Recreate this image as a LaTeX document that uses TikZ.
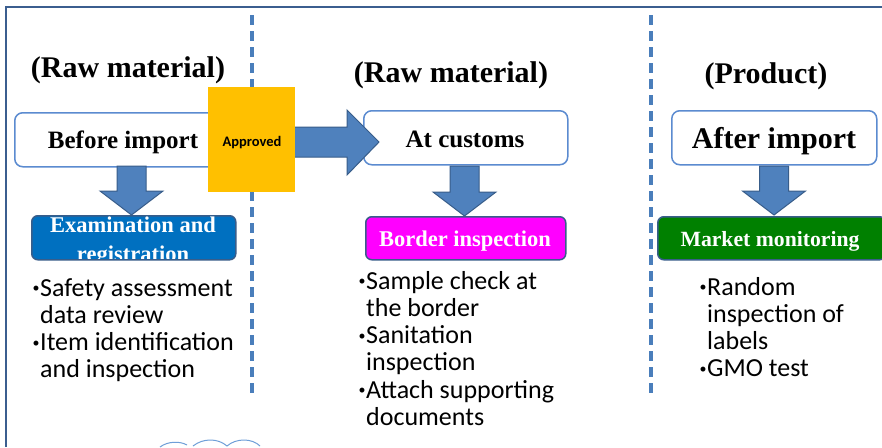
\documentclass[tikz,border=0pt]{standalone}
\usepackage{fontspec}
\setmainfont{Liberation Serif}
\newfontfamily\listfont{Carlito}
\definecolor{arrowfill}{HTML}{4F81BD}
\definecolor{arrowline}{HTML}{385D8A}
\definecolor{dashcol}{HTML}{4A7EBB}
\definecolor{framecol}{HTML}{3B5E8F}
\definecolor{boxline}{HTML}{5B8BD0}
\definecolor{approvedcol}{HTML}{FFC000}
\definecolor{examcol}{HTML}{0070C0}
\definecolor{bordercol}{HTML}{FF00FF}
\definecolor{marketcol}{HTML}{008000}
\definecolor{cloudcol}{HTML}{6F9FD8}
\newcommand{\blockdown}[4]{% name, cx, top, tip
  \coordinate (#1top) at (#2,#3);
  \coordinate (#1tip) at (#2,#4);
  \draw[blockarrow] ($(#1top)+(-14.5,0)$) -- ($(#1top)+(14.5,0)$) -- ($(#1tip)+(14.5,-24)$)
    -- ($(#1tip)+(31.5,-24)$) -- (#1tip) -- ($(#1tip)+(-31.5,-24)$) -- ($(#1tip)+(-14.5,-24)$) -- cycle;}
\newcommand{\itembullet}{\llap{\raisebox{3.5pt}{\fontsize{14}{14}\selectfont •}\hspace{0.5pt}}}
\usetikzlibrary{calc}
\begin{document}
\begin{tikzpicture}[x=1pt,y=-1pt,
  stagebox/.style={draw=boxline, line width=1.5pt, fill=white, rounded corners=8pt, anchor=north west, inner sep=0},
  tagbox/.style={draw=arrowline, line width=1.5pt, rounded corners=6pt, anchor=north west, inner sep=0},
  blockarrow/.style={fill=arrowfill, draw=arrowline, line width=1pt, line join=miter},
  divider/.style={draw=dashcol, line width=4pt, dash pattern=on 10pt off 6pt},
  heading/.style={font=\bfseries\fontsize{30}{32}\selectfont, anchor=base, inner sep=0},
  stagetext/.style={font=\bfseries\fontsize{25}{28}\selectfont, anchor=base, inner sep=0},
  tagtext/.style={font=\bfseries\fontsize{22.5}{29}\selectfont, text=white, anchor=base, inner sep=0},
  listtext/.style={font=\listfont\fontsize{26}{27.3}\selectfont, anchor=base west, inner sep=0}]
\useasboundingbox (0,0) rectangle (882,447);
\fill[white] (0,0) rectangle (882,447);
% frame
\draw[framecol, line width=2pt] (6,447) -- (6,7) -- (882,7);
% dividers
\coordinate (d1top) at (252,15); \coordinate (d1bot) at (252,398);
\coordinate (d2top) at (651,15); \coordinate (d2bot) at (651,398);
\draw[divider] (d1top) -- (d1bot);
\draw[divider] (d2top) -- (d2bot);
% headings
\node[heading] (h1) at (128,77) {(Raw material)};
\node[heading] (h2) at (451,82) {(Raw material)};
\node[heading] (h3) at (766,83) {(Product)};
% stage boxes
\node[stagebox, minimum width=226pt, minimum height=54pt] (before) at (14,112) {};
\node[stagebox, minimum width=204pt, minimum height=54pt] (customs) at (363,110) {};
\node[stagebox, minimum width=205pt, minimum height=54pt] (after) at (671,110) {};
% big right arrow
\coordinate (rstart) at (282,142);
\coordinate (rtip) at (379,142);
\draw[blockarrow] ($(rstart)+(0,-15)$) -- ($(rtip)+(-32,-15)$) -- ($(rtip)+(-32,-32)$) -- (rtip)
  -- ($(rtip)+(-32,33)$) -- ($(rtip)+(-32,15)$) -- ($(rstart)+(0,15)$) -- cycle;
% down arrows
\blockdown{a1}{131.5}{166}{215}
\blockdown{a2}{464.5}{166}{216}
\blockdown{a3}{774}{166}{215}
% coloured tag boxes
\node[tagbox, fill=examcol, minimum width=204pt, minimum height=44pt] (exam) at (31,215) {};
\node[tagbox, fill=bordercol, minimum width=200pt, minimum height=43pt] (bord) at (365,216) {};
\node[tagbox, fill=marketcol, minimum width=228pt, minimum height=43pt] (mark) at (657,216) {};
% approved box
\node[fill=approvedcol, minimum width=87pt, minimum height=105pt, anchor=north west, inner sep=0] (appr) at (208,87) {};
\node[font=\listfont\bfseries\fontsize{14.5}{16}\selectfont, anchor=base, inner sep=0] (apprtxt) at (252,146) {Approved};
% stage texts
\node[stagetext] (beforetxt) at (123,148) {Before import};
\node[stagetext] (customstxt) at (465,147) {At customs};
\node[stagetext, font=\bfseries\fontsize{30}{32}\selectfont] (aftertxt) at (774,148) {After import};
% tag texts
\begin{scope}
\clip[rounded corners=6pt] (31,215) rectangle (235,258.5);
\node[tagtext] (examtxt) at (133,232) {\vtop{\halign{\hfil#\hfil\cr Examination and\cr registration\cr}}};
\end{scope}
\node[tagtext] (bordtxt) at (465,246) {Border inspection};
\node[tagtext, font=\bfseries\fontsize{21.7}{26}\selectfont] (marktxt) at (770,246) {Market monitoring};
% lists
\node[listtext] (list1) at (40,296) {\vtop{\hbox{\itembullet Safety assessment}\hbox{data review}\hbox{\itembullet Item identification}\hbox{and inspection}}};
\node[listtext] (list2) at (366,289) {\vtop{\hbox{\itembullet Sample check at}\hbox{the border}\hbox{\itembullet Sanitation}\hbox{inspection}\hbox{\itembullet Attach supporting}\hbox{documents}}};
\node[listtext] (list3) at (707,295) {\vtop{\hbox{\itembullet Random}\hbox{inspection of}\hbox{labels}\hbox{\itembullet GMO test}}};
% cloud fragment
\draw[cloudcol, line width=1pt] (160,447) .. controls (168,441) and (180,441) .. (187,445);
\draw[cloudcol, line width=1pt] (193,446) .. controls (203,438) and (218,438) .. (227,446);
\draw[cloudcol, line width=1pt] (227,446) .. controls (236,438) and (252,438) .. (260,446);
\end{tikzpicture}
\end{document}
